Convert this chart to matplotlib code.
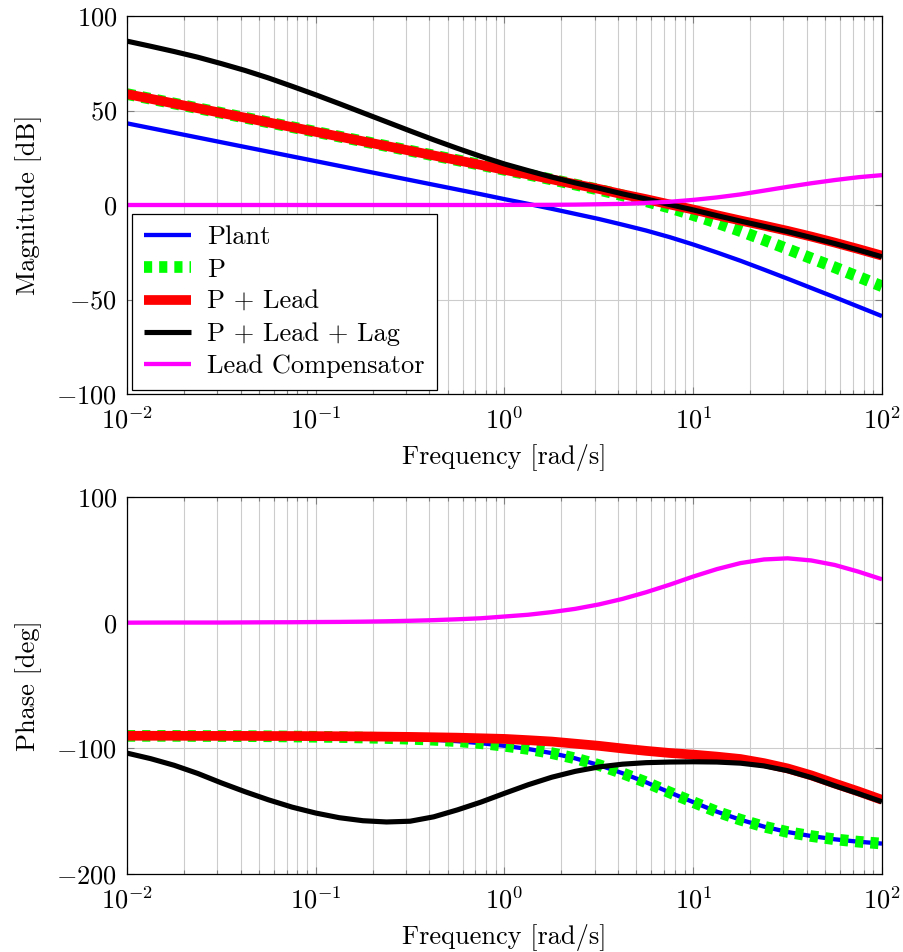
import matplotlib
matplotlib.use("Agg")
import matplotlib.pyplot as plt
from matplotlib.ticker import LogLocator, FixedLocator, FixedFormatter, NullFormatter

plt.rcParams['font.family'] = ['cmr10', 'DejaVu Serif']
plt.rcParams['mathtext.fontset'] = 'cm'
plt.rcParams['axes.formatter.use_mathtext'] = True
plt.rcParams['axes.unicode_minus'] = False

# ---- data, 8 samples per decade ----
freq = [0.01, 0.013335, 0.017783, 0.023714, 0.031623, 0.04217, 0.056234, 0.074989,
        0.1, 0.13335, 0.17783, 0.23714, 0.31623, 0.4217, 0.56234, 0.74989,
        1.0, 1.3335, 1.7783, 2.3714, 3.1623, 4.217, 5.6234, 7.4989,
        10.0, 13.335, 17.783, 23.714, 31.623, 42.17, 56.234, 74.989, 100.0]

plant_mag = [43.2, 40.7, 38.2, 35.7, 33.2, 30.7, 28.2, 25.7,
             23.2, 20.7, 18.2, 15.7, 13.2, 10.7, 8.2, 5.7,
             3.1, 0.6, -2.0, -4.7, -7.4, -10.4, -13.5, -17.0,
             -20.9, -25.1, -29.5, -34.2, -39.0, -43.9, -48.8, -53.8, -58.8]
p_mag = [58.7, 56.2, 53.7, 51.2, 48.7, 46.2, 43.7, 41.2,
         38.7, 36.2, 33.7, 31.2, 28.7, 26.2, 23.7, 21.2,
         18.6, 16.1, 13.5, 10.8, 8.1, 5.1, 2.0, -1.4,
         -5.3, -9.4, -13.8, -18.5, -23.3, -28.2, -33.0, -38.0, -43.0]
pl_mag = [58.7, 56.2, 53.7, 51.2, 48.7, 46.2, 43.7, 41.2,
          38.7, 36.2, 33.7, 31.2, 28.7, 26.2, 23.7, 21.2,
          18.6, 16.2, 13.6, 11.0, 8.5, 5.7, 3.1, 0.3,
          -2.4, -5.4, -8.2, -10.9, -13.7, -16.7, -19.9, -23.3, -26.8]
pll_mag = [86.7, 84.0, 81.2, 78.2, 74.8, 71.2, 67.2, 62.8,
           58.3, 53.6, 48.8, 44.0, 39.2, 34.5, 30.0, 25.7,
           21.7, 18.2, 14.8, 11.7, 8.9, 5.9, 3.2, 0.2,
           -2.6, -5.6, -8.5, -11.3, -14.1, -17.2, -20.4, -23.8, -27.4]
lead_mag = [0.0, 0.0, 0.0, 0.0, 0.0, 0.0, 0.0, 0.0,
            0.0, 0.0, 0.0, 0.0, 0.0, 0.0, 0.0, 0.0,
            0.04, 0.07, 0.1, 0.2, 0.4, 0.6, 1.1, 1.7,
            2.7, 4.0, 5.6, 7.6, 9.6, 11.5, 13.2, 14.7, 15.8]

plant_ph = [-90.1, -90.1, -90.1, -90.2, -90.2, -90.3, -90.4, -90.6,
            -90.8, -91.0, -91.4, -91.8, -92.4, -93.2, -94.3, -95.9,
            -98.0, -100.5, -103.8, -108.0, -113.3, -119.8, -127.0, -135.1,
            -142.8, -150.4, -156.8, -162.3, -166.6, -169.8, -172.4, -174.3, -175.8]
p_ph = [-90.1, -90.1, -90.1, -90.2, -90.2, -90.3, -90.4, -90.6,
        -90.8, -91.0, -91.4, -91.8, -92.4, -93.2, -94.3, -95.9,
        -98.0, -100.5, -103.8, -108.0, -113.3, -119.8, -127.0, -135.1,
        -142.8, -150.4, -156.8, -162.3, -166.6, -169.8, -172.4, -174.3, -175.8]
pl_ph = [-90.0, -90.0, -90.0, -90.1, -90.1, -90.1, -90.2, -90.2,
         -90.3, -90.4, -90.5, -90.7, -90.9, -91.2, -91.5, -92.0,
         -92.5, -93.5, -94.6, -96.3, -98.0, -100.1, -102.0, -103.7,
         -105.0, -106.6, -108.5, -111.8, -116.0, -121.5, -128.0, -134.3, -141.0]
pll_ph = [-103.8, -108.2, -113.5, -120.0, -127.5, -134.5, -141.0, -146.8,
          -151.5, -155.2, -157.6, -158.6, -158.0, -154.5, -149.0, -142.8,
          -135.8, -129.0, -123.0, -118.3, -114.8, -112.6, -111.4, -110.9,
          -110.7, -110.9, -111.8, -114.0, -117.8, -123.2, -129.8, -136.0, -142.5]
lead_ph = [0.0, 0.06, 0.1, 0.1, 0.1, 0.2, 0.3, 0.35,
           0.5, 0.6, 0.8, 1.1, 1.5, 2.0, 2.7, 3.5,
           4.9, 6.3, 8.4, 11.0, 14.5, 18.9, 24.2, 30.2,
           36.7, 42.6, 47.4, 50.3, 51.2, 49.5, 45.9, 40.6, 34.5]

labels = ['Plant', 'P', 'P + Lead', 'P + Lead + Lag', 'Lead Compensator']
mag_ticks = [-100, -50, 0, 50, 100]
ph_ticks = [-200, -100, 0, 100]
x_ticks = [1e-2, 1e-1, 1e0, 1e1, 1e2]
x_ticklabels = [r'$10^{-2}$', r'$10^{-1}$', r'$10^{0}$', r'$10^{1}$', r'$10^{2}$']

# ---- styles ----
styles = [
    dict(color='#0000ff', lw=3.1, ls='-'),
    dict(color='#00ff00', lw=8.4, ls=(0, (0.7, 0.6)), dash_capstyle='butt'),
    dict(color='#ff0000', lw=7.0, ls='-'),
    dict(color='#000000', lw=3.7, ls='-'),
    dict(color='#ff00ff', lw=3.1, ls='-'),
]

W, H = 904, 952
fig = plt.figure(figsize=(W / 100, H / 100), dpi=100)
left = 127 / W
width = 755 / W
ax1 = fig.add_axes([left, 1 - 394 / H, width, 378 / H])
ax2 = fig.add_axes([left, 1 - 874 / H, width, 377 / H])

FS = 19.0


def style_axis(ax, yticks, ylabel):
    ax.set_xscale('log')
    ax.set_xlim(1e-2, 1e2)
    ax.set_ylim(yticks[0], yticks[-1])
    ax.xaxis.set_major_locator(FixedLocator(x_ticks))
    ax.xaxis.set_minor_locator(LogLocator(base=10, subs=range(2, 10), numticks=20))
    ax.xaxis.set_minor_formatter(NullFormatter())
    ax.set_xticklabels(x_ticklabels)
    ax.yaxis.set_major_locator(FixedLocator(yticks))
    ax.yaxis.set_major_formatter(FixedFormatter(['$%d$' % t for t in yticks]))
    ax.tick_params(which='both', direction='in', top=True, right=True,
                   labelsize=FS, color='#808080')
    ax.tick_params(which='major', length=5, width=0.8, pad=9)
    ax.tick_params(which='minor', length=3, width=0.8)
    ax.tick_params(axis='y', pad=7)
    ax.grid(True, which='major', color='#cccccc', lw=0.8)
    ax.grid(True, which='minor', axis='x', color='#cccccc', lw=0.8)
    ax.set_axisbelow(True)
    for s in ax.spines.values():
        s.set_linewidth(0.9)
        s.set_color('black')
    ax.set_xlabel('Frequency [rad/s]', fontsize=FS)
    ax.set_ylabel(ylabel, fontsize=FS)
    ax.xaxis.set_label_coords(0.5, -0.133)
    ax.xaxis.label.set_va('top')
    ax.yaxis.set_label_coords(-0.113, 0.5)


mags = [plant_mag, p_mag, pl_mag, pll_mag, lead_mag]
phs = [plant_ph, p_ph, pl_ph, pll_ph, lead_ph]
for data, lab, st in zip(mags, labels, styles):
    ax1.plot(freq, data, label=lab, solid_capstyle='butt', solid_joinstyle='round', **st)
for data, st in zip(phs, styles):
    ax2.plot(freq, data, solid_capstyle='butt', solid_joinstyle='round', **st)

style_axis(ax1, mag_ticks, 'Magnitude [dB]')
style_axis(ax2, ph_ticks, 'Phase [deg]')

leg = ax1.legend(loc='lower left', bbox_to_anchor=(0.0066, 0.0106),
                 borderaxespad=0, fontsize=FS, frameon=True, fancybox=False,
                 framealpha=1, edgecolor='black', handlelength=1.8,
                 handletextpad=0.6, labelspacing=0.32, borderpad=0.45)
leg.get_frame().set_linewidth(0.9)

fig.savefig('out.png', dpi=100)
